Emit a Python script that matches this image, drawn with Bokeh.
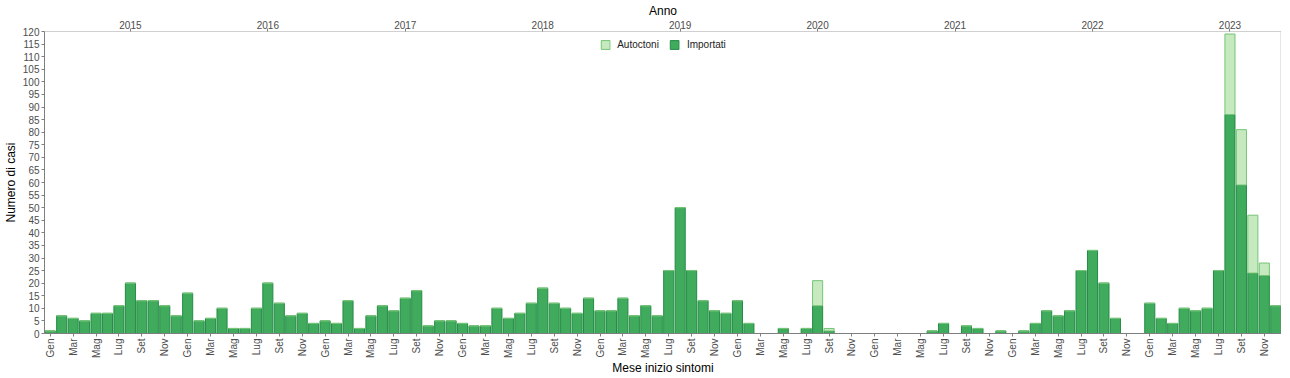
from bokeh.plotting import figure
from bokeh.models import (FixedTicker, LinearAxis, Range1d, Legend, LegendItem,
                          ColumnDataSource, Span)
from bokeh.embed import file_html
from bokeh.resources import INLINE

# ---------------- data ----------------
years = ["2015", "2016", "2017", "2018", "2019", "2020", "2021", "2022", "2023"]
month_names = ["Gen", "Feb", "Mar", "Apr", "Mag", "Giu",
               "Lug", "Ago", "Set", "Ott", "Nov", "Dic"]

importati = [
    1, 7, 6, 5, 8, 8, 11, 20, 13, 13, 11, 7,        # 2015
    16, 5, 6, 10, 2, 2, 10, 20, 12, 7, 8, 4,        # 2016
    5, 4, 13, 2, 7, 11, 9, 14, 17, 3, 5, 5,         # 2017
    4, 3, 3, 10, 6, 8, 12, 18, 12, 10, 8, 14,       # 2018
    9, 9, 14, 7, 11, 7, 25, 50, 25, 13, 9, 8,       # 2019
    13, 4, 0, 0, 2, 0, 2, 11, 1, 0, 0, 0,           # 2020
    0, 0, 0, 0, 0, 1, 4, 0, 3, 2, 0, 1,             # 2021
    0, 1, 4, 9, 7, 9, 25, 33, 20, 6, 0, 0,          # 2022
    12, 6, 4, 10, 9, 10, 25, 87, 59, 24, 23, 11,    # 2023
]
autoctoni = [
    0, 0, 0, 0, 0, 0, 0, 0, 0, 0, 0, 0,             # 2015
    0, 0, 0, 0, 0, 0, 0, 0, 0, 0, 0, 0,             # 2016
    0, 0, 0, 0, 0, 0, 0, 0, 0, 0, 0, 0,             # 2017
    0, 0, 0, 0, 0, 0, 0, 0, 0, 0, 0, 0,             # 2018
    0, 0, 0, 0, 0, 0, 0, 0, 0, 0, 0, 0,             # 2019
    0, 0, 0, 0, 0, 0, 0, 10, 1, 0, 0, 0,            # 2020
    0, 0, 0, 0, 0, 0, 0, 0, 0, 0, 0, 0,             # 2021
    0, 0, 0, 0, 0, 0, 0, 0, 0, 0, 0, 0,             # 2022
    0, 0, 0, 0, 0, 0, 0, 32, 22, 23, 5, 0,          # 2023
]

n = len(importati)
src = ColumnDataSource(dict(x=list(range(n)), importati=importati, autoctoni=autoctoni))

FONT = "Liberation Sans"
C_IMP, C_IMP_LINE = "#41ab5d", "#238b45"
C_AUT, C_AUT_LINE = "#c7e9c0", "#74c476"

p = figure(frame_width=1237, frame_height=302, output_backend="svg", toolbar_location=None,
           x_range=Range1d(-0.5, n - 0.5), y_range=Range1d(0, 120),
           min_border_left=0, min_border_right=0, min_border_top=0, min_border_bottom=0)
p.outline_line_color = None
p.xgrid.visible = False
p.ygrid.visible = False
p.background_fill_color = "white"
p.border_fill_color = "white"

rs = p.vbar_stack(["importati", "autoctoni"], x="x", width=0.88, source=src,
                  fill_color=[C_IMP, C_AUT], line_color=[C_IMP_LINE, C_AUT_LINE],
                  line_width=1)
r_imp, r_aut = rs

# bottom axis (months)
xa = p.xaxis[0]
xa.ticker = FixedTicker(ticks=list(range(0, n, 2)))
xa.major_label_overrides = {i: month_names[i % 12] for i in range(0, n, 2)}
xa.major_label_orientation = 1.5708
xa.axis_label = "Mese inizio sintomi"

# top axis (years)
top = LinearAxis(ticker=FixedTicker(ticks=[7 + 12 * k for k in range(len(years))]),
                 major_label_overrides={7 + 12 * k: y for k, y in enumerate(years)},
                 axis_label="Anno")
p.add_layout(top, "above")

ya = p.yaxis[0]
ya.ticker = FixedTicker(ticks=list(range(0, 121, 5)))
ya.axis_label = "Numero di casi"

for ax in (xa, top, ya):
    ax.minor_tick_line_color = None
    ax.major_tick_in = 0
    ax.major_tick_out = 3
    ax.major_tick_line_color = "#7f7f7f"
    ax.axis_line_color = "#7f7f7f"
    ax.major_label_text_font = FONT
    ax.major_label_text_font_size = "10px"
    ax.major_label_text_color = "#4d4d4d"
    ax.axis_label_text_font = FONT
    ax.axis_label_text_font_size = "12px"
    ax.axis_label_text_font_style = "normal"
    ax.axis_label_text_color = "black"
    ax.major_label_standoff = 2
    ax.axis_label_standoff = 2
top.axis_line_color = "#d0d0d0"
top.axis_label_standoff = 0
top.major_label_standoff = 0
xa.axis_label_standoff = 0

p.add_layout(Span(location=n - 0.5, dimension="height", line_color="#9a9a9a", line_width=1.5))

legend = Legend(items=[LegendItem(label="Autoctoni", renderers=[r_aut]),
                       LegendItem(label="Importati", renderers=[r_imp])],
                orientation="horizontal", location="top_center",
                label_text_font=FONT, label_text_font_size="10px", label_text_color="#222222",
                glyph_width=11, glyph_height=11, label_standoff=7, spacing=10,
                padding=2, margin=8, border_line_color=None, background_fill_alpha=0,
                label_height=11)
p.add_layout(legend, "center")

open("out.html", "w").write(file_html(p, INLINE))
